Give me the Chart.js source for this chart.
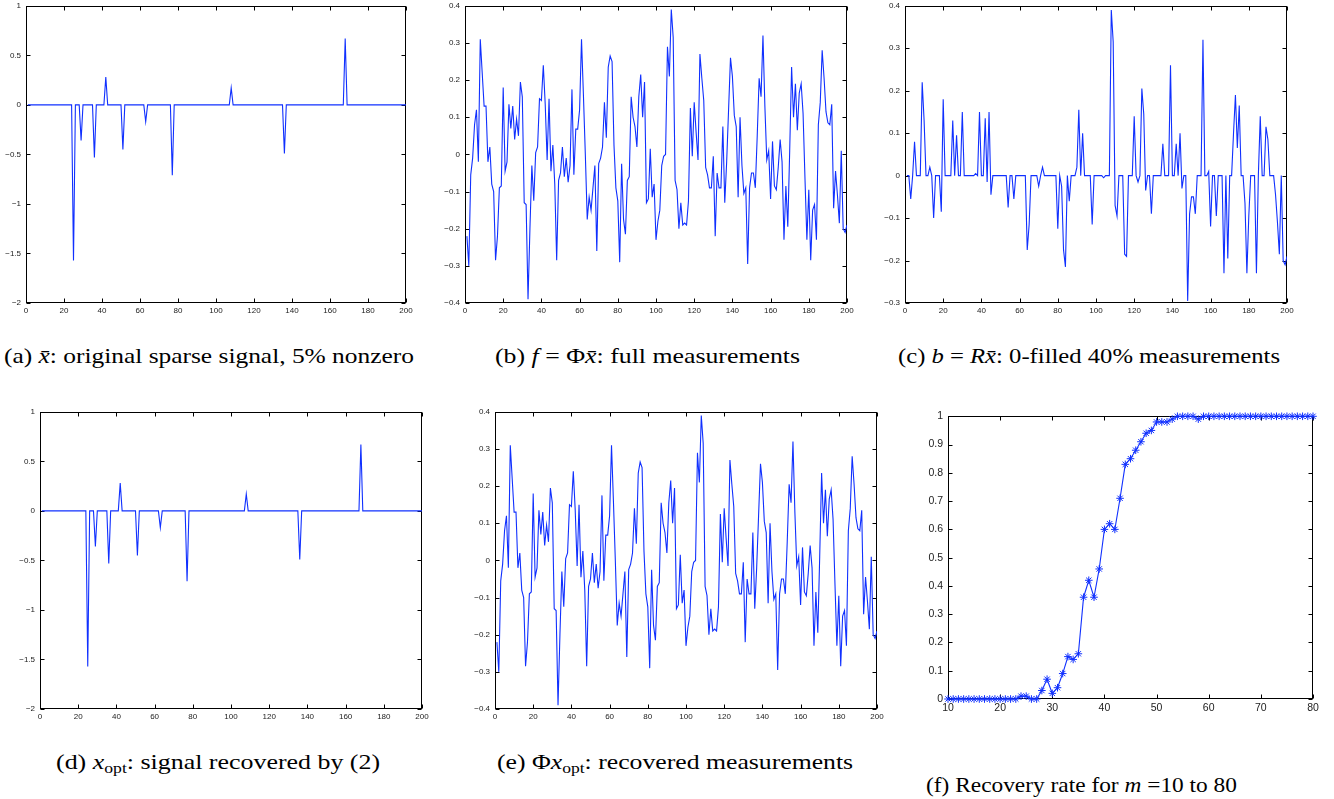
<!DOCTYPE html>
<html>
<head>
<meta charset="utf-8">
<script src="https://cdn.jsdelivr.net/npm/chart.js@4.4.1/dist/chart.umd.min.js"></script>
<style>
  html, body { margin: 0; padding: 0; background: #fff; width: 1334px; height: 799px; overflow: hidden; }
  canvas { position: absolute; }
  .cap { position: absolute; font-family: 'Liberation Serif', serif; font-size: 22px; line-height: 26px; white-space: nowrap; color: #000; transform-origin: 0 50%; }
  .cap sub { font-size: 15px; vertical-align: -4px; line-height: 0; }
</style>
</head>
<body>
<div class="cap" data-left="4" data-width="410" data-cy="356">(a) <i>x&#772;</i>: original sparse signal, 5% nonzero</div>
<div class="cap" data-left="495" data-width="305" data-cy="356">(b) <i>f</i> = &Phi;<i>x&#772;</i>: full measurements</div>
<div class="cap" data-left="898" data-width="382" data-cy="356">(c) <i>b</i> = <i>Rx&#772;</i>: 0-filled 40% measurements</div>
<div class="cap" data-left="56" data-width="324" data-cy="762">(d) <i>x</i><sub>opt</sub>: signal recovered by (2)</div>
<div class="cap" data-left="497" data-width="356" data-cy="762">(e) &Phi;<i>x</i><sub>opt</sub>: recovered measurements</div>
<div class="cap" data-left="926" data-width="311" data-cy="785">(f) Recovery rate for <i>m</i> =10 to 80</div>

<script>
// sparse signal: nonzero positions and their values (all other samples are 0)
const spikePositions = [25, 29, 36, 42, 51, 63, 77, 108, 136, 168];
const spikeValues = [-1.57, -0.36, -0.53, 0.28, -0.45, -0.17, -0.71, 0.17, -0.49, 0.67];

// full measurements f = Phi*xbar (samples 1..200)
const fullMeasurements = [
  -0.22, -0.30, -0.055, -0.01, 0.08, 0.12, -0.02, 0.31, 0.22, 0.13,
  0.13, -0.02, 0.02, -0.08, -0.10, -0.285, -0.22, -0.09, -0.085, 0.18,
  -0.045, -0.02, 0.135, 0.07, 0.13, 0.04, 0.095, 0.05, 0.195, 0.155,
  -0.13, -0.135, -0.39, -0.20, -0.03, -0.125, 0.005, 0.02, 0.15, 0.145,
  0.24, 0.135, -0.015, 0.15, -0.045, 0.025, -0.08, -0.285, -0.07, -0.05,
  0.02, -0.06, -0.01, -0.075, -0.03, 0.175, -0.055, 0.068, 0.068, 0.12,
  0.31, 0.16, 0.0, -0.175, -0.115, -0.15, -0.09, -0.03, -0.26, -0.025,
  -0.01, 0.02, 0.14, 0.045, 0.235, 0.265, 0.25, 0.025, -0.09, -0.125,
  -0.29, -0.025, -0.175, -0.215, -0.07, -0.06, 0.155, 0.10, 0.075, 0.02,
  0.155, 0.215, 0.10, 0.195, -0.13, -0.12, 0.015, -0.115, -0.08, -0.23,
  -0.18, -0.15, -0.03, -0.005, 0.0, 0.29, 0.21, 0.39, 0.315, -0.07,
  -0.095, -0.20, -0.13, -0.19, -0.185, -0.19, -0.125, 0.125, -0.005, 0.14,
  0.06, -0.015, 0.27, 0.205, 0.145, -0.035, -0.055, -0.09, -0.09, -0.005,
  -0.22, -0.05, -0.09, -0.09, 0.075, -0.13, -0.02, 0.12, 0.26, 0.21,
  0.105, 0.075, -0.115, 0.10, -0.03, -0.105, -0.09, -0.295, -0.09, -0.05,
  -0.05, -0.09, 0.05, 0.205, 0.155, 0.32, 0.13, -0.015, 0.01, -0.12,
  0.035, -0.085, -0.095, -0.035, 0.04, -0.02, -0.23, -0.085, -0.195, 0.01,
  0.235, 0.10, 0.19, 0.065, 0.165, 0.19, 0.11, -0.065, -0.23, -0.095,
  -0.285, -0.15, -0.135, -0.23, 0.08, 0.14, 0.28, 0.205, 0.115, 0.085,
  0.08, 0.135, -0.145, -0.045, -0.11, -0.185, 0.01, -0.20, -0.21, -0.19
];

// 0-filled 40% measurements b = R*xbar
const partialMeasurements = [
  0, 0, -0.055, 0, 0.08, 0, 0, 0, 0.22, 0.13,
  0, 0, 0.02, 0, -0.10, 0, 0, 0, -0.085, 0.18,
  0, 0, 0, 0, 0.13, 0, 0.095, 0, 0, 0.15,
  0, 0, 0, 0, 0, 0, 0.005, 0, 0.15, 0,
  0, 0.135, -0.015, 0.15, -0.045, 0, 0, 0, 0, 0,
  0, 0, 0, -0.075, 0, 0, -0.055, 0, 0, 0,
  0, 0, 0, -0.175, -0.115, 0, 0, 0, 0, -0.025,
  0, 0.02, 0, 0, 0, 0, 0, 0, 0, -0.125,
  0, -0.025, -0.175, -0.215, 0, -0.06, 0, 0, 0, 0.02,
  0.155, 0, 0.10, 0, 0, 0, 0, -0.115, 0, 0,
  0, 0, 0, -0.005, 0, 0, 0, 0.39, 0.315, -0.07,
  -0.095, 0, 0, 0, -0.185, -0.19, 0, 0, 0, 0.14,
  0, -0.015, 0, 0.205, 0.145, -0.035, 0, 0, -0.09, 0,
  0, 0, 0, 0, 0.075, 0, 0, 0, 0.26, 0,
  0, 0.075, 0, 0.10, -0.03, 0, 0, -0.295, -0.09, -0.05,
  -0.05, -0.09, 0, 0, 0, 0.32, 0, 0, 0.01, -0.12,
  0, 0, -0.095, 0, 0, 0, -0.23, 0, -0.195, 0,
  0, 0.10, 0.19, 0.065, 0.165, 0, 0, -0.065, -0.23, -0.095,
  0, 0, 0, -0.23, 0, 0.14, 0, 0, 0.115, 0.085,
  0, 0, 0, -0.045, -0.11, -0.185, 0, -0.20, -0.21, -0.19
];

// recovery rate for m = 10..80
const recoveryRate = [
  0, 0, 0, 0, 0, 0, 0, 0, 0, 0,
  0, 0, 0, 0, 0.01, 0.01, 0, 0, 0.03, 0.07,
  0.02, 0.04, 0.09, 0.15, 0.14, 0.16, 0.36, 0.42, 0.36, 0.46,
  0.60, 0.62, 0.60, 0.71, 0.83, 0.85, 0.88, 0.91, 0.94, 0.95,
  0.98, 0.98, 0.98, 0.99, 1, 1, 1, 1, 0.99, 1,
  1, 1, 1, 1, 1, 1, 1, 1, 1, 1,
  1, 1, 1, 1, 1, 1, 1, 1, 1, 1, 1
];

const sampleIndex = Array.from({ length: 200 }, (_, i) => i + 1);
const mValues = Array.from({ length: 71 }, (_, i) => i + 10);

const sparseSignal = sampleIndex.map(i => {
  const k = spikePositions.indexOf(i);
  return k >= 0 ? spikeValues[k] : 0;
});
// the recovered signal and measurements are identical to the originals
const recoveredSignal = sparseSignal;
const recoveredMeasurements = fullMeasurements;

const BLUE = '#1030ff';
const Y_AXIS_W = 34, X_AXIS_H = 18, PAD_TOP = 7, PAD_RIGHT = 14;

// box with inward ticks on all four sides, like matlab
const matlabAxes = {
  id: 'matlabAxes',
  beforeDatasetsDraw(chart) {
    const { ctx, chartArea: a, scales: { x, y } } = chart;
    const L = Math.round(a.left) + 0.5, R = Math.round(a.right) - 0.5;
    const T = Math.round(a.top) + 0.5, B = Math.round(a.bottom) - 0.5;
    const len = 4;
    ctx.save();
    ctx.strokeStyle = '#000';
    ctx.lineWidth = 1;
    ctx.strokeRect(L, T, R - L, B - T);
    ctx.beginPath();
    x.ticks.forEach(t => {
      const px = Math.round(x.getPixelForValue(t.value)) + 0.5;
      ctx.moveTo(px, B); ctx.lineTo(px, B - len);
      ctx.moveTo(px, T); ctx.lineTo(px, T + len);
    });
    y.ticks.forEach(t => {
      const py = Math.round(y.getPixelForValue(t.value)) + 0.5;
      ctx.moveTo(L, py); ctx.lineTo(L + len, py);
      ctx.moveTo(R, py); ctx.lineTo(R - len, py);
    });
    ctx.stroke();
    ctx.restore();
  }
};

function fmt(v) {
  return String(Number(v.toFixed(2))).replace('-', '\u2212');
}

function makePanel(box, labels, values, xr, yr, withMarkers, fontSize) {
  const canvas = document.createElement('canvas');
  const w = box.width + Y_AXIS_W + PAD_RIGHT;
  const h = box.height + PAD_TOP + X_AXIS_H;
  canvas.width = w; canvas.height = h;
  canvas.style.width = w + 'px'; canvas.style.height = h + 'px';
  canvas.style.left = (box.left - Y_AXIS_W) + 'px';
  canvas.style.top = (box.top - PAD_TOP) + 'px';
  document.body.appendChild(canvas);

  const tickFont = { family: 'Liberation Sans', size: fontSize };
  new Chart(canvas.getContext('2d'), {
    type: 'line',
    data: {
      datasets: [{
        data: labels.map((x, i) => ({ x: x, y: values[i] })),
        borderColor: BLUE,
        backgroundColor: BLUE,
        borderWidth: 1.1,
        tension: 0,
        fill: false,
        pointRadius: withMarkers ? 3.8 : 0,
        pointStyle: 'star',
        pointBorderColor: BLUE,
        pointBorderWidth: 1,
        clip: withMarkers ? false : undefined,
      }],
    },
    options: {
      responsive: false,
      animation: false,
      devicePixelRatio: 1,
      layout: { padding: { top: PAD_TOP, right: PAD_RIGHT, left: 0, bottom: 0 } },
      plugins: { legend: { display: false }, tooltip: { enabled: false } },
      scales: {
        x: {
          type: 'linear',
          min: xr[0], max: xr[1],
          ticks: { stepSize: xr[2], autoSkip: false, maxRotation: 0, padding: 3, color: '#222', font: tickFont },
          grid: { drawOnChartArea: false, drawTicks: false },
          border: { display: false },
          afterFit: s => { s.height = X_AXIS_H; },
        },
        y: {
          min: yr[0], max: yr[1],
          ticks: { stepSize: yr[2], autoSkip: false, padding: 5, color: '#222', font: tickFont, callback: v => fmt(v) },
          grid: { drawOnChartArea: false, drawTicks: false },
          border: { display: false },
          afterFit: s => { s.width = Y_AXIS_W; },
        },
      },
    },
    plugins: [matlabAxes],
  });
}

makePanel({ left: 26, top: 3, width: 380, height: 300 }, sampleIndex, sparseSignal, [0, 200, 20], [-2, 1, 0.5], false, 8);
makePanel({ left: 465, top: 3, width: 382, height: 300 }, sampleIndex, fullMeasurements, [0, 200, 20], [-0.4, 0.4, 0.1], false, 8);
makePanel({ left: 905, top: 3, width: 382, height: 300 }, sampleIndex, partialMeasurements, [0, 200, 20], [-0.3, 0.4, 0.1], false, 8);
makePanel({ left: 40, top: 409, width: 382, height: 300 }, sampleIndex, recoveredSignal, [0, 200, 20], [-2, 1, 0.5], false, 8);
makePanel({ left: 495, top: 409, width: 382, height: 300 }, sampleIndex, recoveredMeasurements, [0, 200, 20], [-0.4, 0.4, 0.1], false, 8);
makePanel({ left: 948, top: 412, width: 365, height: 287 }, mValues, recoveryRate, [10, 80, 10], [0, 1, 0.1], true, 10.5);

// fit each caption into the width it takes in the figure
document.querySelectorAll('.cap').forEach(el => {
  const w = el.getBoundingClientRect().width;
  const target = Number(el.dataset.width);
  el.style.left = el.dataset.left + 'px';
  el.style.top = (Number(el.dataset.cy) - 13) + 'px';
  el.style.transform = 'scaleX(' + (target / w).toFixed(3) + ')';
});
</script>
</body>
</html>
